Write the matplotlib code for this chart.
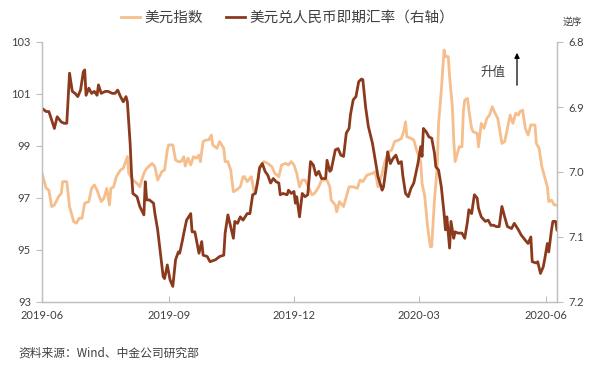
import numpy as np
import matplotlib
matplotlib.use("Agg")
import matplotlib.pyplot as plt
import matplotlib.dates as mdates

plt.rcParams['font.family'] = ['Lato', 'Noto Sans CJK SC', 'DejaVu Sans']

base_date = "2019-06-03"

# US dollar index (left axis): days since base_date, value
dxy_days = [0, 3, 5, 7, 9, 12, 14, 15, 18, 20, 23, 25, 27, 29, 31, 34, 36, 38, 40, 43,
            45, 47, 49, 50, 52, 54, 57, 59, 62, 63, 66, 69, 71, 74, 76, 80, 82, 84, 87, 89,
            91, 92, 95, 97, 99, 101, 103, 104, 106, 108, 110, 112, 114, 115, 117, 119, 121, 123, 124, 127,
            129, 132, 133, 135, 137, 139, 141, 144, 146, 147, 149, 152, 154, 156, 158, 161, 164, 167, 169, 172,
            174, 177, 179, 181, 183, 185, 187, 189, 191, 194, 196, 198, 201, 203, 207, 209, 210, 213, 214, 216,
            219, 221, 223, 226, 229, 231, 233, 236, 240, 242, 244, 247, 249, 252, 254, 256, 259, 261, 263, 264,
            265, 268, 270, 272, 275, 276, 278, 280, 282, 283, 285, 287, 288, 290, 292, 293, 295, 296, 298, 299,
            300, 302, 303, 305, 306, 307, 309, 310, 312, 313, 316, 317, 319, 321, 323, 325, 327, 329, 331, 334,
            336, 338, 340, 342, 344, 346, 347, 349, 351, 353, 355, 358, 359, 361, 363, 365, 367, 368, 370, 372,
            373]
dxy_vals = [97.95, 97.38, 97.3, 96.67, 96.73, 97.05, 97.18, 97.63, 97.63, 96.67, 96.09, 96.03, 96.22, 96.22, 96.8, 96.86, 97.37, 97.5, 97.3, 96.86,
            96.99, 97.37, 96.73, 97.37, 97.43, 97.82, 98.08, 98.14, 98.59, 97.95, 97.69, 97.56, 97.43, 97.95, 98.14, 98.33, 98.2, 97.69, 98.01, 98.08,
            98.85, 99.04, 99.04, 98.46, 98.4, 98.4, 98.59, 98.23, 98.53, 98.27, 98.59, 98.53, 98.65, 98.4, 99.17, 99.23, 99.23, 99.42, 99.04, 98.91,
            99.17, 98.91, 98.4, 98.4, 98.08, 97.24, 97.3, 97.43, 97.82, 97.82, 97.63, 97.82, 97.24, 97.43, 98.2, 98.4, 98.33, 98.2, 97.95, 97.82,
            98.27, 98.33, 98.27, 98.4, 98.27, 97.95, 97.43, 97.69, 97.69, 97.37, 97.12, 97.18, 97.43, 97.69, 97.69, 97.43, 96.92, 96.73, 96.47, 96.86,
            96.67, 97.05, 97.43, 97.43, 97.37, 97.69, 97.63, 97.88, 97.95, 98.01, 97.43, 97.95, 98.4, 98.78, 98.85, 99.17, 99.23, 99.29, 99.62, 99.93,
            99.36, 99.29, 99.23, 98.85, 98.4, 97.56, 97.05, 95.9, 95.13, 95.13, 96.92, 98.2, 99.87, 101.15, 102.69, 102.44, 102.44, 101.67, 100.51, 99.23,
            98.4, 98.78, 98.97, 98.97, 100.32, 100.77, 100.83, 100.38, 99.68, 99.55, 99.49, 98.97, 99.87, 99.68, 100.06, 100.19, 100.51, 100.26, 100.06, 99.1,
            99.17, 99.68, 100.19, 99.87, 100.26, 100.19, 100.32, 100.38, 99.68, 99.42, 99.81, 99.81, 99.1, 98.91, 98.2, 97.82, 97.43, 96.86, 96.92, 96.73,
            96.73]

# USD/CNY spot rate (right axis, inverted): days since base_date, value
cny_days = [0, 3, 5, 7, 9, 11, 14, 16, 18, 20, 22, 24, 26, 28, 30, 31, 32, 34, 36, 38,
            40, 41, 43, 46, 48, 51, 53, 55, 57, 59, 61, 62, 64, 65, 66, 69, 71, 74, 75, 76,
            78, 81, 82, 84, 86, 88, 89, 91, 93, 95, 97, 99, 100, 102, 103, 105, 108, 109, 111, 114,
            116, 117, 120, 122, 126, 129, 132, 133, 135, 137, 139, 140, 142, 144, 146, 149, 151, 153, 155, 157,
            158, 160, 162, 164, 166, 168, 170, 172, 173, 175, 178, 179, 181, 183, 184, 185, 187, 189, 191, 193,
            195, 197, 199, 201, 203, 206, 207, 209, 210, 213, 215, 217, 219, 221, 223, 224, 226, 228, 230, 232,
            233, 235, 237, 240, 242, 244, 247, 248, 250, 251, 253, 255, 257, 259, 261, 262, 264, 266, 268, 270,
            273, 275, 276, 277, 279, 281, 283, 285, 286, 288, 290, 292, 293, 294, 296, 297, 299, 300, 302, 305,
            307, 309, 310, 312, 314, 316, 317, 319, 322, 324, 326, 328, 330, 332, 334, 336, 338, 341, 343, 346,
            348, 351, 353, 355, 356, 359, 360, 362, 364, 365, 367, 368, 370, 371, 373, 374]
cny_vals = [6.902, 6.907, 6.907, 6.92, 6.933, 6.915, 6.923, 6.925, 6.925, 6.848, 6.876, 6.879, 6.884, 6.874, 6.846, 6.843, 6.882, 6.871, 6.879, 6.876,
            6.882, 6.866, 6.879, 6.876, 6.876, 6.879, 6.879, 6.874, 6.884, 6.892, 6.884, 6.892, 6.956, 7.002, 7.033, 7.038, 7.053, 7.066, 7.015, 7.043,
            7.043, 7.048, 7.064, 7.089, 7.125, 7.161, 7.164, 7.143, 7.166, 7.176, 7.135, 7.123, 7.125, 7.105, 7.094, 7.074, 7.064, 7.092, 7.092, 7.125,
            7.107, 7.128, 7.13, 7.138, 7.135, 7.13, 7.128, 7.094, 7.066, 7.084, 7.102, 7.076, 7.079, 7.069, 7.074, 7.064, 7.064, 7.035, 7.033, 7.01,
            6.994, 6.987, 6.999, 7.005, 7.017, 7.01, 7.015, 7.017, 7.035, 7.033, 7.035, 7.028, 7.033, 7.03, 7.048, 7.038, 7.069, 7.033, 7.038, 7.035,
            6.984, 6.989, 7.005, 6.999, 7.01, 7.01, 6.982, 6.999, 6.997, 6.966, 6.964, 6.974, 6.976, 6.94, 6.933, 6.912, 6.889, 6.884, 6.861, 6.857,
            6.858, 6.9, 6.93, 6.956, 6.982, 7.007, 7.028, 7.023, 6.992, 6.969, 6.987, 6.979, 6.974, 6.987, 6.984, 7.005, 7.033, 7.038, 7.025, 7.017,
            6.987, 6.961, 6.976, 6.933, 6.938, 6.946, 6.948, 6.971, 6.992, 6.997, 7.023, 7.064, 7.089, 7.069, 7.117, 7.076, 7.102, 7.092, 7.094, 7.094,
            7.102, 7.076, 7.058, 7.064, 7.035, 7.04, 7.056, 7.069, 7.076, 7.074, 7.082, 7.082, 7.084, 7.084, 7.053, 7.069, 7.084, 7.087, 7.079, 7.089,
            7.097, 7.105, 7.11, 7.1, 7.138, 7.14, 7.138, 7.156, 7.146, 7.135, 7.11, 7.123, 7.089, 7.076, 7.076, 7.089]

x_tick_days = [0, 92, 183, 274, 366]
x_tick_labels = ["2019-06", "2019-09", "2019-12", "2020-03", "2020-06"]
left_ticks = [93, 95, 97, 99, 101, 103]
right_ticks = [6.8, 6.9, 7.0, 7.1, 7.2]

series_names = ["美元指数", "美元兑人民币即期汇率（右轴）"]

dxy_color = "#F5BE8C"
cny_color = "#8B3A1D"
axis_color = "#BFBFBF"
text_color = "#404040"

b = np.datetime64(base_date)
def to_dates(days):
    return b + np.array(days).astype("timedelta64[D]")

fig = plt.figure(figsize=(5.93, 3.67), dpi=100)
ax = fig.add_axes([42/593, 1-302/367, (557-42)/593, 260/367])
ax2 = ax.twinx()

l1, = ax.plot(to_dates(dxy_days), dxy_vals, color=dxy_color, lw=2.0, solid_joinstyle='round')
l2, = ax2.plot(to_dates(cny_days), cny_vals, color=cny_color, lw=2.0, solid_joinstyle='round')

ax.set_xlim(b, b + np.timedelta64(374, 'D'))
ax.set_ylim(93, 103)
ax2.set_ylim(7.2, 6.8)

ax.set_yticks(left_ticks)
ax.set_yticklabels([str(v) for v in left_ticks])
ax2.set_yticks(right_ticks)
ax2.set_yticklabels([f"{v:.1f}" for v in right_ticks])
ax.set_xticks(to_dates(x_tick_days))
ax.set_xticklabels(x_tick_labels)

for a in (ax, ax2):
    a.spines['top'].set_visible(False)
    for s in ('left', 'right', 'bottom'):
        a.spines[s].set_color(axis_color)
        a.spines[s].set_linewidth(0.9)
ax.tick_params(axis='y', direction='out', length=4, width=0.8, color=axis_color,
               labelsize=8, labelcolor=text_color, pad=4)
ax2.tick_params(axis='y', direction='out', length=4, width=0.8, color=axis_color,
                labelsize=8, labelcolor=text_color, pad=4)
ax.tick_params(axis='x', direction='in', length=4, width=0.8, color=axis_color,
               labelsize=8, labelcolor=text_color, pad=6)

fig.legend([l1, l2], series_names, loc='center', bbox_to_anchor=(0.485, 0.951),
           ncol=2, frameon=False, fontsize=10.5, handlelength=1.3, handletextpad=0.3,
           columnspacing=1.6, labelcolor=text_color,
           prop={'family': ['Noto Sans CJK SC'], 'size': 10.5})

fig.text(572/593, 1-22/367, "逆序", fontsize=7, color=text_color, ha='center', va='center',
         family=['Noto Sans CJK SC'])
fig.text(493/593, 1-72/367, "升值", fontsize=9, color=text_color, ha='center', va='center',
         family=['Noto Sans CJK SC'])
fig.patches.append(matplotlib.patches.FancyArrowPatch(
    (517/593, 1-88/367), (517/593, 1-50/367), transform=fig.transFigure,
    arrowstyle='-|>,head_length=3,head_width=1.5', color='black', lw=0.9))
fig.text(18/593, 1-353/367, "资料来源：Wind、中金公司研究部", fontsize=8.5, color=text_color,
         ha='left', va='center', family=['Noto Sans CJK SC', 'DejaVu Sans'])

fig.savefig("out.png", dpi=100)
